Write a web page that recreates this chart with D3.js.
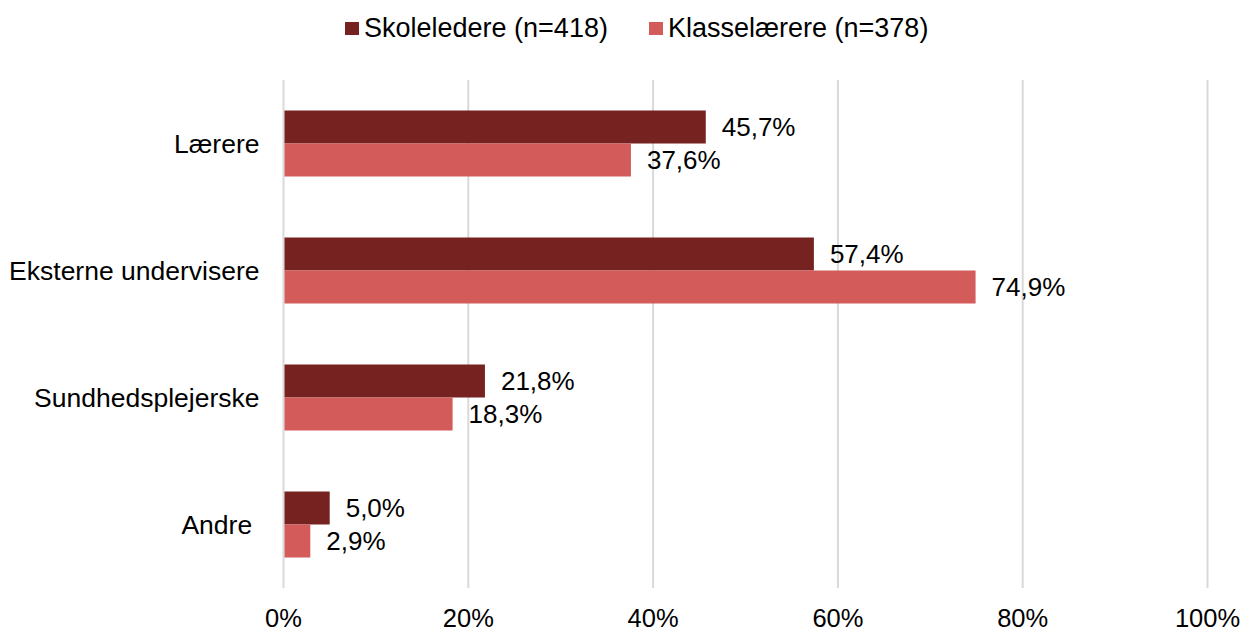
<!DOCTYPE html>
<html>
<head>
<meta charset="utf-8">
<script src="https://cdn.jsdelivr.net/npm/d3@7"></script>
<style>
  body { margin: 0; background: #fff; }
  svg { font-family: "Liberation Sans", Arial, sans-serif; }
  text { white-space: pre; }
</style>
</head>
<body>
<svg id="chart" width="1244" height="632"></svg>
<script>
// chart data
const categories = ['Lærere', 'Eksterne undervisere', 'Sundhedsplejerske', 'Andre '];
const seriesNames = ['Skoleledere (n=418)', 'Klasselærere (n=378)'];
const skoleledere = [45.7, 57.4, 21.8, 5.0];
const klasselaerere = [37.6, 74.9, 18.3, 2.9];
const xTicks = [0, 20, 40, 60, 80, 100];
const colors = ['#762221', '#D35B5A'];

const svg = d3.select('#chart');
const margin = { top: 80, left: 283.5, right: 36.5, bottom: 44 };
const width = 1244 - margin.left - margin.right;
const height = 632 - margin.top - margin.bottom;

const x = d3.scaleLinear().domain([0, 100]).range([0, width]);
const y = d3.scaleBand().domain(categories).range([0, height]);
const ySub = d3.scaleBand().domain([0, 1]).range([y.bandwidth() / 2 - 33, y.bandwidth() / 2 + 33]);

const g = svg.append('g').attr('transform', `translate(${margin.left},${margin.top})`);

// gridlines
g.selectAll('line.grid')
  .data(xTicks).enter()
  .append('line')
  .attr('class', 'grid')
  .attr('x1', d => x(d)).attr('x2', d => x(d))
  .attr('y1', 0).attr('y2', height)
  .attr('stroke', '#d9d9d9')
  .attr('stroke-width', 2);

// x tick labels
g.selectAll('text.tick')
  .data(xTicks).enter()
  .append('text')
  .attr('class', 'tick')
  .attr('x', d => x(d))
  .attr('y', height + 39)
  .attr('text-anchor', 'middle')
  .attr('font-size', 25.5)
  .attr('fill', '#000')
  .text(d => d + '%');

// category labels
g.selectAll('text.cat')
  .data(categories).enter()
  .append('text')
  .attr('class', 'cat')
  .attr('x', -24)
  .attr('y', d => y(d) + y.bandwidth() / 2)
  .attr('dy', '0.35em')
  .attr('text-anchor', 'end')
  .attr('font-size', 26.5)
  .attr('fill', '#000')
  .text(d => d);

// bars
const series = [skoleledere, klasselaerere];
series.forEach((vals, si) => {
  const rows = categories.map((c, i) => ({ cat: c, value: vals[i] }));
  g.selectAll('rect.s' + si)
    .data(rows).enter()
    .append('rect')
    .attr('class', 's' + si)
    .attr('x', x(0) + 1)
    .attr('y', d => y(d.cat) + ySub(si))
    .attr('width', d => x(d.value) - x(0) - 1)
    .attr('height', ySub.bandwidth())
    .attr('fill', colors[si]);

  g.selectAll('text.l' + si)
    .data(rows).enter()
    .append('text')
    .attr('class', 'l' + si)
    .attr('x', d => x(d.value) + 16)
    .attr('y', d => y(d.cat) + ySub(si) + ySub.bandwidth() / 2)
    .attr('dy', '0.35em')
    .attr('font-size', 26)
    .attr('fill', '#000')
    .text(d => d.value.toFixed(1).replace('.', ',') + '%');
});

// legend
const legendX = [345, 649];
const legend = svg.selectAll('g.legend')
  .data(seriesNames).enter()
  .append('g')
  .attr('class', 'legend')
  .attr('transform', (d, i) => `translate(${legendX[i]},22)`);
legend.append('rect')
  .attr('width', 14).attr('height', 13)
  .attr('fill', (d, i) => colors[i]);
legend.append('text')
  .attr('x', 19).attr('y', 6)
  .attr('dy', '0.35em')
  .attr('font-size', 27)
  .attr('fill', '#000')
  .text(d => d);
</script>
</body>
</html>
